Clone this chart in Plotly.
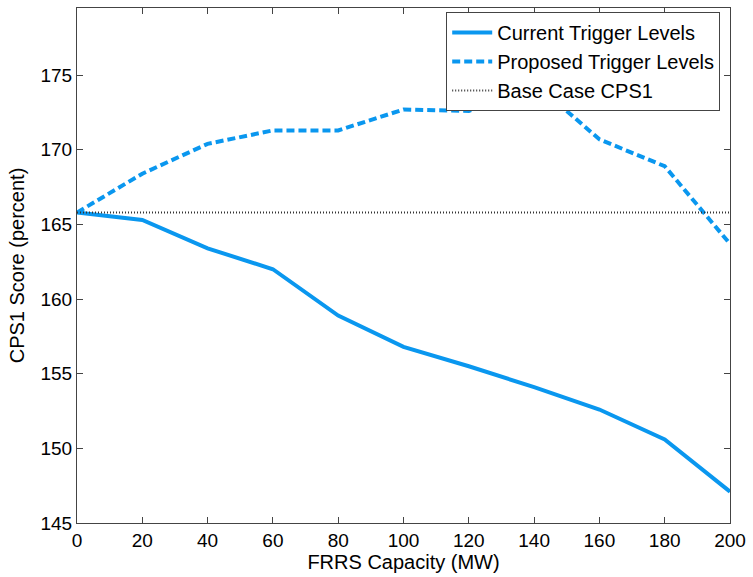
import plotly.graph_objects as go

capacity = [0, 20, 40, 60, 80, 100, 120, 140, 160, 180, 200]
current = [165.8, 165.3, 163.4, 162.0, 158.9, 156.8, 155.5, 154.1, 152.6, 150.6, 147.1]
proposed = [165.8, 168.4, 170.4, 171.3, 171.3, 172.7, 172.6, 174.5, 170.7, 168.9, 163.7]
base_case = [165.8] * len(capacity)

x_ticks = [0, 20, 40, 60, 80, 100, 120, 140, 160, 180, 200]
y_ticks = [145, 150, 155, 160, 165, 170, 175]

blue = "#0a97ef"
font = "Liberation Sans, Arial, sans-serif"

fig = go.Figure()
fig.add_trace(go.Scatter(x=capacity, y=current, mode="lines", name="Current Trigger Levels",
                         line=dict(color=blue, width=4)))
fig.add_trace(go.Scatter(x=capacity, y=proposed, mode="lines", name="Proposed Trigger Levels",
                         line=dict(color=blue, width=4, dash="8px,4px")))
fig.add_trace(go.Scatter(x=capacity, y=base_case, mode="lines", name="Base Case CPS1",
                         line=dict(color="#333333", width=2, dash="1px,2px")))

axis_common = dict(showline=True, linecolor="#444444", linewidth=1, mirror="ticks",
                   ticks="inside", ticklen=6, tickcolor="#444444", showgrid=False,
                   zeroline=False, tickfont=dict(size=19, color="black", family=font))

fig.update_layout(
    width=753, height=577,
    margin=dict(l=77, r=20, t=7, b=54),
    paper_bgcolor="white", plot_bgcolor="white",
    font=dict(family=font, size=19, color="black"),
    xaxis=dict(range=[0, 200], tickvals=x_ticks, title=dict(text="FRRS Capacity (MW)", standoff=3,
               font=dict(size=20)), **axis_common),
    yaxis=dict(range=[145, 179.5], tickvals=y_ticks, title=dict(text="CPS1 Score (percent)", standoff=10,
               font=dict(size=20)), **axis_common),
    legend=dict(x=0.985, y=0.992, xanchor="right", yanchor="top", bgcolor="white",
                bordercolor="#444444", borderwidth=1, font=dict(size=20, family=font),
                tracegroupgap=0, itemwidth=40),
    showlegend=True,
)

fig.write_html("out.html", config={"displayModeBar": False},
               post_script="document.body.style.margin='0px';")
